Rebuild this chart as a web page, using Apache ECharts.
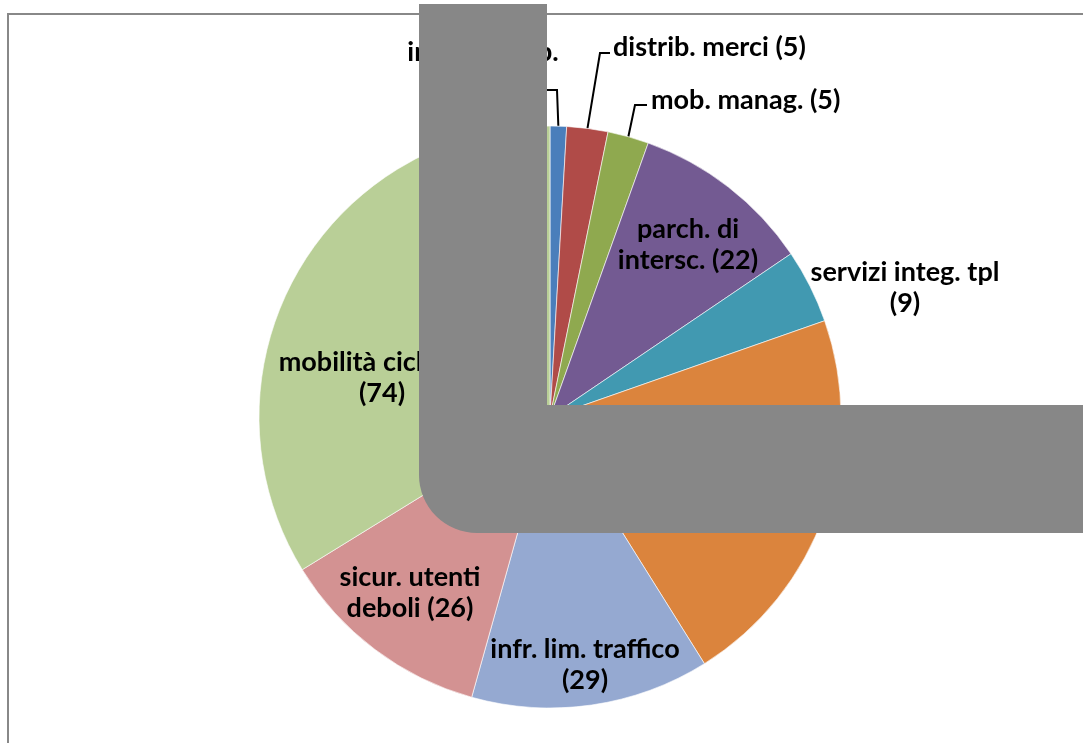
<!DOCTYPE html>
<html>
<head>
<meta charset="utf-8">
<title>Pie</title>
<script src="https://cdn.jsdelivr.net/npm/echarts@6/dist/echarts.min.js"></script>
<style>
  html, body { margin: 0; padding: 0; background: #fff; }
  #myChart { width: 1083px; height: 743px; }
</style>
</head>
<body>
<div id="myChart"></div>
<script>
// categorie e valori (senso orario dalle ore 12)
var categories = ['int. infomob.\n', 'distrib. merci', 'mob. manag.', 'parch. di\nintersc.', 'servizi integ. tpl\n',
  'altro', 'infr. lim. traffico\n', 'sicur. utenti\ndeboli', 'mobilità ciclistica\n']
var values = [2, 5, 5, 22, 9, 47, 29, 26, 74]
var colors = ['#4A7EBB', '#B04B48', '#8FA94F', '#735A92', '#4199B1', '#DB843D', '#95A9D1', '#D39292', '#B9CF97']

// dove stanno le etichette (centro del testo) e lo stile di allineamento
var labelSpots = [
  { x: 483, y: 68, align: 'center' },
  { x: 613, y: 47, align: 'left', line: [600, 53, 610, 53] },
  { x: 651, y: 100, align: 'left', line: [635, 105, 647, 105] },
  { x: 688, y: 245, align: 'center' },
  { x: 905, y: 288, align: 'center' },
  null,
  { x: 585, y: 665, align: 'center' },
  { x: 410, y: 593, align: 'center' },
  { x: 382, y: 378, align: 'center' }
]

var pieData = categories.map(function (c, i) {
  return {
    name: c,
    value: values[i],
    itemStyle: { color: colors[i] },
    label: { show: labelSpots[i] !== null },
    labelLine: { show: i <= 2 }
  }
})

var option = {
  animation: false,
  backgroundColor: '#fff',
  graphic: [
    { // cornice del grafico
      type: 'rect', z: 0,
      shape: { x: 8, y: 14, width: 1100, height: 760 },
      style: { fill: 'none', stroke: '#888', lineWidth: 2 }
    },
    { // fascia grigia verticale
      type: 'rect', z: 100,
      shape: { x: 419, y: 4, width: 128, height: 470 },
      style: { fill: '#878787' }
    },
    { // fascia grigia orizzontale
      type: 'rect', z: 100,
      shape: { x: 419, y: 405, width: 700, height: 128, r: [0, 0, 0, 58] },
      style: { fill: '#878787' }
    }
  ],
  series: [
    {
      name: 'interventi',
      type: 'pie',
      center: [550, 417],
      radius: 291,
      startAngle: 90,
      clockwise: true,
      avoidLabelOverlap: false,
      itemStyle: { borderColor: '#fff', borderWidth: 0.6 },
      label: {
        position: 'outside',
        formatter: function (p) { return p.name + (p.name.slice(-1) === '\n' ? '' : ' ') + '(' + p.value + ')' },
        fontFamily: 'Lato',
        fontWeight: 'bold',
        fontSize: 27,
        lineHeight: 31,
        color: '#000'
      },
      labelLine: {
        show: true,
        lineStyle: { color: '#000', width: 2 }
      },
      labelLayout: function (params) {
        var s = labelSpots[params.dataIndex]
        if (!s) return {}
        var out = { x: s.x, y: s.y, align: s.align, verticalAlign: 'middle' }
        if (params.labelLinePoints) {
          var p0 = params.labelLinePoints[0]
          if (s.line) {
            out.labelLinePoints = [p0, [s.line[0], s.line[1]], [s.line[2], s.line[3]]]
          } else {
            out.labelLinePoints = [p0, [557, 90], [540, 90]]
          }
        }
        return out
      },
      data: pieData
    }
  ]
}

var myChart = echarts.init(document.getElementById('myChart'))
myChart.setOption(option)
</script>
</body>
</html>
